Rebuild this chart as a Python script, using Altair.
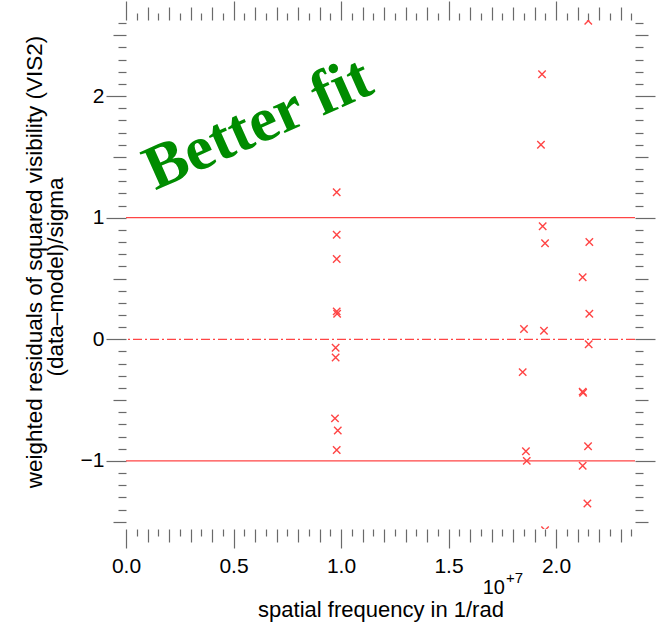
import altair as alt
import pandas as pd

# ---- data ----
freq = [0.980e7, 0.980e7, 0.980e7, 0.980e7, 0.982e7, 0.975e7, 0.975e7, 0.972e7, 0.985e7, 0.980e7,
        1.851e7, 1.845e7, 1.860e7, 1.864e7,
        1.935e7, 1.930e7, 1.938e7, 1.949e7, 1.944e7, 1.949e7,
        2.150e7, 2.155e7, 2.124e7, 2.155e7, 2.152e7, 2.124e7, 2.126e7, 2.149e7, 2.124e7, 2.146e7]
resid = [1.21, 0.86, 0.66, 0.23, 0.21, -0.07, -0.15, -0.65, -0.75, -0.91,
         0.085, -0.27, -0.92, -1.00,
         2.18, 1.60, 0.93, 0.79, 0.07, -1.57,
         2.62, 0.80, 0.51, 0.21, -0.04, -0.43, -0.44, -0.88, -1.04, -1.35]
sigma_lines = [1.0, -1.0]
zero_line = [0.0]

x_major = [0.0, 0.5e7, 1.0e7, 1.5e7, 2.0e7]
x_medium = [k * 1e6 for k in range(1, 24) if k % 5 != 0]
x_minor = [(k + 0.5) * 1e6 for k in range(0, 24)]
y_major = [-1, 0, 1, 2]
y_medium = [-1.5, -0.5, 0.5, 1.5, 2.5]
y_minor = [k / 10 for k in range(-14, 27) if k % 5 != 0]

x_title = "spatial frequency in 1/rad"
y_title1 = "weighted residuals of squared visibility (VIS2)"
y_title2 = "(data\u2013model)/sigma"
annotation = "Better fit"

RED = "#ff4545"
GREEN = "#008c00"
TICK = "#6a6a6a"
FONT = "Liberation Sans"

df = pd.DataFrame({"freq": freq, "resid": resid})
XS = alt.Scale(domain=[0, 2.3674e7], nice=False, zero=False)
YS = alt.Scale(domain=[-1.560, 2.626], nice=False, zero=False)


def ax(orient, values, size, **kw):
    return alt.Axis(orient=orient, values=values, tickSize=size, domain=False, grid=False,
                    ticks=True, tickColor=TICK, tickWidth=1.2, **kw)


bottom_major = ax("bottom", x_major, 19, labels=True, labelExpr="format(datum.value / 1e7, '.1f')",
                  labelFont=FONT, labelFontSize=21, labelColor="black", labelPadding=7,
                  labelFlush=False, labelOverlap=False,
                  title=x_title, titleFont=FONT, titleFontSize=22, titleFontWeight="normal",
                  titleColor="black", titleX=254.5, titleY=87, titleBaseline="alphabetic")
left_major = ax("left", y_major, 20, labels=True, format="d", labelFont=FONT, labelFontSize=21,
                labelColor="black", labelPadding=2, labelFlush=False, labelOverlap=False, title=None)

axis_pairs = [
    (ax("bottom", x_medium, 13, labels=False, title=None), ax("left", y_medium, 13, labels=False, title=None)),
    (ax("bottom", x_minor, 7, labels=False, title=None), ax("left", y_minor, 8, labels=False, title=None)),
    (ax("top", x_major, 19, labels=False, title=None), ax("right", y_major, 20, labels=False, title=None)),
    (ax("top", x_medium, 13, labels=False, title=None), ax("right", y_medium, 13, labels=False, title=None)),
    (ax("top", x_minor, 7, labels=False, title=None), ax("right", y_minor, 8, labels=False, title=None)),
]

XPATH = "M-1,-1L1,1M-1,1L1,-1"

points = alt.Chart(df).mark_point(shape=XPATH, filled=False, size=55, strokeWidth=1.4,
                                  color=RED, opacity=1, clip=True).encode(
    x=alt.X("freq:Q", scale=XS, axis=bottom_major),
    y=alt.Y("resid:Q", scale=YS, axis=left_major),
)

tick_layers = [
    alt.Chart(df).mark_point(opacity=0).encode(
        x=alt.X("freq:Q", scale=XS, axis=xa),
        y=alt.Y("resid:Q", scale=YS, axis=ya),
    )
    for xa, ya in axis_pairs
]

rules = alt.Chart(pd.DataFrame({"y": sigma_lines})).mark_rule(color=RED, strokeWidth=1.3).encode(
    y=alt.Y("y:Q", scale=YS, axis=None))
zero = alt.Chart(pd.DataFrame({"y": zero_line})).mark_rule(
    color=RED, strokeWidth=1.3, strokeDash=[9, 3, 2, 3]).encode(
    y=alt.Y("y:Q", scale=YS, axis=None))

better = alt.Chart(pd.DataFrame({"t": [annotation]})).mark_text(
    font="Liberation Serif", fontWeight="bold", fontSize=63, color=GREEN,
    angle=336, align="center", baseline="middle").encode(
    text="t:N", x=alt.value(132), y=alt.value(104))

yt1 = alt.Chart(pd.DataFrame({"t": [y_title1]})).mark_text(
    font=FONT, fontSize=22.5, color="black", angle=270, align="center", baseline="middle").encode(
    text="t:N", x=alt.value(-91), y=alt.value(242))
yt2 = alt.Chart(pd.DataFrame({"t": [y_title2]})).mark_text(
    font=FONT, fontSize=22.5, color="black", angle=270, align="center", baseline="middle").encode(
    text="t:N", x=alt.value(-70), y=alt.value(257))

exp10 = alt.Chart(pd.DataFrame({"t": ["10"]})).mark_text(
    font=FONT, fontSize=20, color="black", align="right", baseline="alphabetic").encode(
    text="t:N", x=alt.value(379), y=alt.value(574))
exp7 = alt.Chart(pd.DataFrame({"t": ["+7"]})).mark_text(
    font=FONT, fontSize=15, color="black", align="left", baseline="alphabetic").encode(
    text="t:N", x=alt.value(380), y=alt.value(563))

chart = alt.layer(points, *tick_layers, rules, zero, better, yt1, yt2, exp10, exp7).resolve_axis(
    x="independent", y="independent"
).properties(
    width=509, height=509,
    padding={"left": 126, "top": 20, "right": 28, "bottom": 98},
    autosize=alt.AutoSizeParams(type="none"),
    background="white",
).configure_view(stroke=None)

chart.save("out.html", embed_options={"renderer": "svg", "actions": False})
